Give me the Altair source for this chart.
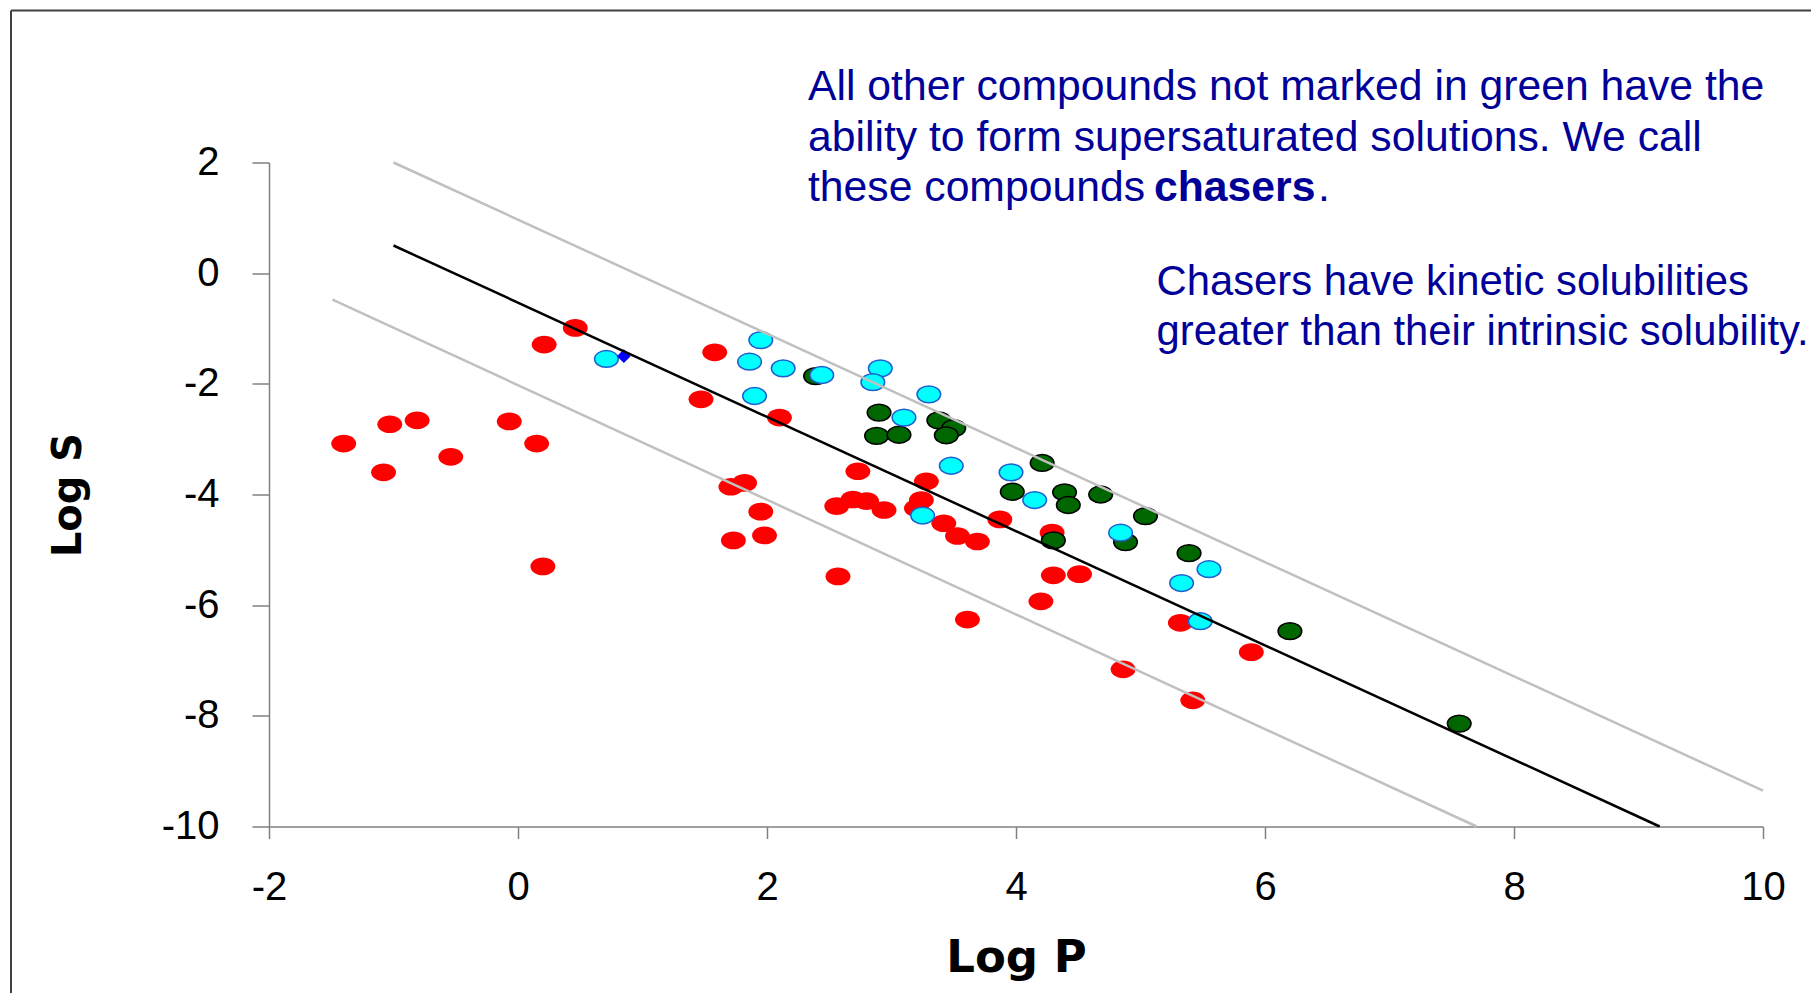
import altair as alt
import pandas as pd

# ---- data ----
red_x = [0.46, 0.21, 1.58, 1.47, 2.10, -1.03, -0.81, -0.07, -1.40, 0.15, -0.54, -1.08, 0.20,
         1.82, 1.71, 1.95, 1.98, 1.73, 2.73, 2.56, 2.69, 2.80, 2.94, 3.28, 3.24, 3.20, 3.42,
         3.53, 3.69, 3.87, 4.29, 4.30, 4.51, 4.20, 2.57, 3.61, 5.32, 5.89, 4.86, 5.42]
red_y = [-0.99, -1.29, -1.43, -2.28, -2.61, -2.73, -2.66, -2.68, -3.08, -3.08, -3.32, -3.60, -5.30,
         -3.79, -3.86, -4.31, -4.74, -4.83, -3.58, -4.21, -4.09, -4.12, -4.28, -3.76, -4.10, -4.25, -4.52,
         -4.75, -4.85, -4.45, -4.69, -5.46, -5.44, -5.93, -5.48, -6.26, -6.32, -6.85, -7.16, -7.72]

green_x = [2.39, 2.90, 2.88, 3.06, 3.38, 3.50, 3.44, 4.21, 3.97, 4.39, 4.42, 4.68, 5.04, 4.30,
           4.88, 5.39, 6.20, 7.56]
green_y = [-1.86, -2.52, -2.94, -2.92, -2.66, -2.80, -2.93, -3.43, -3.95, -3.96, -4.19, -4.00, -4.39, -4.83,
           -4.86, -5.06, -6.47, -8.14]

cyan_x = [0.71, 1.95, 1.86, 2.13, 1.90, 2.44, 2.91, 2.85, 3.30, 3.10, 3.48, 3.96, 4.15, 3.25,
          4.84, 5.55, 5.33, 5.48]
cyan_y = [-1.55, -1.21, -1.60, -1.72, -2.22, -1.84, -1.72, -1.97, -2.19, -2.61, -3.48, -3.60, -4.10, -4.38,
          -4.69, -5.35, -5.60, -6.29]

blue_x = [0.85]
blue_y = [-1.50]

fit_x = [-1.0, 9.17]
fit_y = [0.5, -10.0]
upper_x = [-1.0, 10.0]
upper_y = [2.0, -9.35]
lower_x = [-1.49, 7.70]
lower_y = [-0.48, -10.0]

x_ticks = [-2, 0, 2, 4, 6, 8, 10]
y_ticks = [-10, -8, -6, -4, -2, 0, 2]

note1_lines = ["All other compounds not marked in green have the",
               "ability to form supersaturated solutions. We call",
               "these compounds "]
note1_bold = "chasers"
note1_end = "."
note2_lines = ["Chasers have kinetic solubilities",
               "greater than their intrinsic solubility."]

# ---- layout ----
W, H = 1494, 664
x_scale = alt.Scale(domain=[-2, 10], nice=False, zero=False)
y_scale = alt.Scale(domain=[-10, 2], nice=False, zero=False)

x_axis = alt.Axis(title="Log P", values=x_ticks, labelExpr="'' + datum.value", grid=False,
                  domainColor="#808080", domainWidth=1.5, tickColor="#808080", tickWidth=1.5,
                  tickSize=12, labelPadding=29, labelFont="Liberation Sans", labelFontSize=40,
                  labelColor="black", labelFlush=False, labelOverlap=False,
                  titleFont="DejaVu Sans", titleFontSize=45, titleFontWeight="bold",
                  titleColor="black", titleX=747, titleY=131, titleBaseline="middle",
                  titleAlign="center")
y_axis = alt.Axis(title="Log S", values=y_ticks, labelExpr="'' + datum.value", grid=False,
                  domainColor="#808080", domainWidth=1.5, tickColor="#808080", tickWidth=1.5,
                  tickSize=17, labelPadding=33, labelFont="Liberation Sans", labelFontSize=40,
                  labelColor="black", labelFlush=False, labelOverlap=False,
                  titleFont="DejaVu Sans", titleFontSize=40, titleFontWeight="bold",
                  titleColor="black", titleAngle=270, titleX=-201, titleY=332,
                  titleBaseline="middle", titleAlign="center")


def enc():
    return dict(x=alt.X("logP:Q", scale=x_scale, axis=x_axis),
                y=alt.Y("logS:Q", scale=y_scale, axis=y_axis))


def df(xs, ys):
    return pd.DataFrame({"logP": xs, "logS": ys})


ELLIPSE = "M-1,0A1,0.71,0,1,0,1,0A1,0.71,0,1,0,-1,0Z"

red = alt.Chart(df(red_x, red_y)).mark_point(
    shape=ELLIPSE, filled=True, fill="#FF0000", strokeWidth=0, size=620, opacity=1
).encode(**enc())

green = alt.Chart(df(green_x, green_y)).mark_point(
    shape=ELLIPSE, filled=True, fill="#006600", stroke="#000000", strokeWidth=1.5,
    size=560, opacity=1
).encode(**enc())

cyan = alt.Chart(df(cyan_x, cyan_y)).mark_point(
    shape=ELLIPSE, filled=True, fill="#00FFFF", stroke="#1F5FD0", strokeWidth=1.5,
    size=560, opacity=1
).encode(**enc())

blue = alt.Chart(df(blue_x, blue_y)).mark_point(
    shape="diamond", filled=True, fill="#0000FF", strokeWidth=0, size=190, opacity=1
).encode(**enc())

upper = alt.Chart(df(upper_x, upper_y)).mark_line(color="#C0C0C0", strokeWidth=2.5).encode(**enc())
lower = alt.Chart(df(lower_x, lower_y)).mark_line(color="#C0C0C0", strokeWidth=2.5).encode(**enc())
fit = alt.Chart(df(fit_x, fit_y)).mark_line(color="#000000", strokeWidth=2.5).encode(**enc())

one = alt.Data(values=[{"k": 1}])
TXT = dict(font="Liberation Sans", color="#000099", align="left", baseline="alphabetic")

texts = []
for i, line in enumerate(note1_lines):
    texts.append(alt.Chart(one).mark_text(fontSize=42.7, **TXT).encode(
        x=alt.value(539), y=alt.value(-62.5 + 50.5 * i), text=alt.value(line)))
texts.append(alt.Chart(one).mark_text(fontSize=42.7, fontWeight="bold", **TXT).encode(
    x=alt.value(885), y=alt.value(38.5), text=alt.value(note1_bold)))
texts.append(alt.Chart(one).mark_text(fontSize=42.7, **TXT).encode(
    x=alt.value(1049), y=alt.value(38.5), text=alt.value(note1_end)))
for i, line in enumerate(note2_lines):
    texts.append(alt.Chart(one).mark_text(fontSize=41.8, **TXT).encode(
        x=alt.value(887.5), y=alt.value(132.5 + 50 * i), text=alt.value(line)))

frame_top = alt.Chart(one).mark_rule(color="#404040", strokeWidth=2).encode(
    x=alt.value(-258), x2=alt.value(1700), y=alt.value(-152))
frame_left = alt.Chart(one).mark_rule(color="#404040", strokeWidth=2).encode(
    x=alt.value(-258), y=alt.value(-152), y2=alt.value(900))

chart = alt.layer(
    red, green, cyan, blue, upper, lower, fit, *texts, frame_top, frame_left
).properties(
    width=W, height=H,
    autosize=alt.AutoSizeParams(type="none"),
    padding={"left": 261, "top": 154.5, "right": 48, "bottom": 166},
    background="white",
).configure_view(strokeWidth=0)

chart.save("out.html", embed_options={"renderer": "svg", "actions": False})
